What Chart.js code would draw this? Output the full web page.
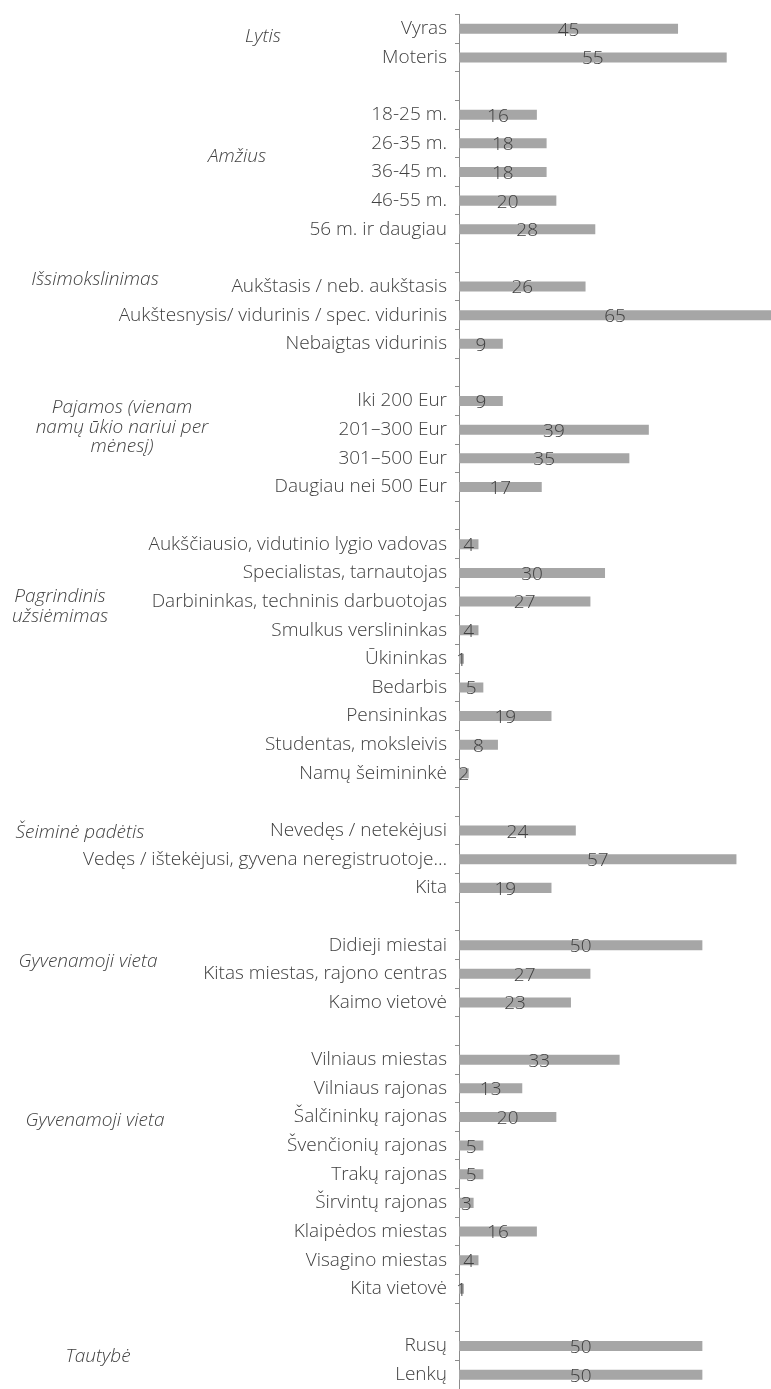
<!DOCTYPE html>
<html>
<head>
<meta charset="utf-8">
<script src="https://cdn.jsdelivr.net/npm/chart.js@4.4.1/dist/chart.umd.min.js"></script>
<style>
  html, body { margin: 0; padding: 0; background: #fff; }
  #wrap { width: 771px; height: 1389px; }
</style>
</head>
<body>
<div id="wrap"><canvas id="respondentsChart" width="771" height="1389"></canvas></div>
<script>
// rows of the chart, empty strings are spacer rows between groups
const categories = [
  'Vyras', 'Moteris', '',
  '18-25 m.', '26-35 m.', '36-45 m.', '46-55 m.', '56 m. ir daugiau', '',
  'Aukštasis / neb. aukštasis', 'Aukštesnysis/ vidurinis / spec. vidurinis', 'Nebaigtas vidurinis', '',
  'Iki 200 Eur', '201–300 Eur', '301–500 Eur', 'Daugiau nei 500 Eur', '',
  'Aukščiausio, vidutinio lygio vadovas', 'Specialistas, tarnautojas', 'Darbininkas, techninis darbuotojas',
  'Smulkus verslininkas', 'Ūkininkas', 'Bedarbis', 'Pensininkas', 'Studentas, moksleivis', 'Namų šeimininkė', '',
  'Nevedęs / netekėjusi', 'Vedęs / ištekėjusi, gyvena neregistruotoje…', 'Kita', '',
  'Didieji miestai', 'Kitas miestas, rajono centras', 'Kaimo vietovė', '',
  'Vilniaus miestas', 'Vilniaus rajonas', 'Šalčininkų rajonas', 'Švenčionių rajonas', 'Trakų rajonas',
  'Širvintų rajonas', 'Klaipėdos miestas', 'Visagino miestas', 'Kita vietovė', '',
  'Rusų', 'Lenkų'
];

const values = [
  45, 55, null,
  16, 18, 18, 20, 28, null,
  26, 65, 9, null,
  9, 39, 35, 17, null,
  4, 30, 27, 4, 1, 5, 19, 8, 2, null,
  24, 57, 19, null,
  50, 27, 23, null,
  33, 13, 20, 5, 5, 3, 16, 4, 1, null,
  50, 50
];

// group headings on the left: text lines, centre x, y of first line
const groupTitles = [
  { lines: ['Lytis'], x: 263, y: 37 },
  { lines: ['Amžius'], x: 237, y: 157 },
  { lines: ['Išsimokslinimas'], x: 95, y: 280 },
  { lines: ['Pajamos (vienam', 'namų ūkio nariui per', 'mėnesį)'], x: 122, y: 408 },
  { lines: ['Pagrindinis', 'užsiėmimas'], x: 60, y: 597 },
  { lines: ['Šeiminė padėtis'], x: 80, y: 833 },
  { lines: ['Gyvenamoji vieta'], x: 88, y: 962 },
  { lines: ['Gyvenamoji vieta'], x: 95, y: 1121 },
  { lines: ['Tautybė'], x: 98, y: 1357 }
];

const FONT = '"Open Sans", "Noto Sans", sans-serif';
const TEXT = '#404040';

const groupTitlePlugin = {
  id: 'groupTitles',
  afterDraw(chart) {
    const ctx = chart.ctx;
    ctx.save();
    ctx.fillStyle = TEXT;
    ctx.font = 'italic 300 19px ' + FONT;
    ctx.textAlign = 'center';
    ctx.textBaseline = 'middle';
    groupTitles.forEach(g => {
      g.lines.forEach((line, i) => {
        ctx.fillText(line, g.x, g.y + i * 19.5);
      });
    });
    ctx.restore();
  }
};

// value printed in the middle of each bar
const barValuePlugin = {
  id: 'barValues',
  afterDatasetsDraw(chart) {
    const ctx = chart.ctx;
    const meta = chart.getDatasetMeta(0);
    ctx.save();
    ctx.fillStyle = TEXT;
    ctx.font = '300 19px ' + FONT;
    ctx.textAlign = 'center';
    ctx.textBaseline = 'middle';
    meta.data.forEach((bar, i) => {
      const v = values[i];
      if (v === null) return;
      const right = Math.min(bar.x, chart.chartArea.right);
      ctx.fillText(String(v), (bar.base + right) / 2, bar.y + 1.5);
    });
    ctx.restore();
  }
};

new Chart(document.getElementById('respondentsChart'), {
  type: 'bar',
  data: {
    labels: categories,
    datasets: [{
      data: values,
      backgroundColor: '#a6a6a6',
      borderWidth: 0,
      barPercentage: 0.35,
      categoryPercentage: 1.0
    }]
  },
  options: {
    indexAxis: 'y',
    responsive: false,
    animation: false,
    events: [],
    layout: { padding: { top: 14.5, right: 0, bottom: 0, left: 0 } },
    plugins: {
      legend: { display: false },
      tooltip: { enabled: false }
    },
    scales: {
      x: {
        display: false,
        min: 0,
        max: 64.1
      },
      y: {
        afterFit(scale) {
          scale.width = 459;
          scale.paddingTop = 0;
          scale.paddingBottom = 0;
        },
        grid: {
          offset: true,
          drawOnChartArea: false,
          drawTicks: true,
          tickLength: 4,
          color: '#8c8c8c'
        },
        border: { display: true, color: '#8c8c8c', width: 1 },
        ticks: {
          autoSkip: false,
          padding: 8,
          color: TEXT,
          font: { family: FONT, size: 19, weight: '300' }
        }
      }
    }
  },
  plugins: [groupTitlePlugin, barValuePlugin]
});
</script>
</body>
</html>
